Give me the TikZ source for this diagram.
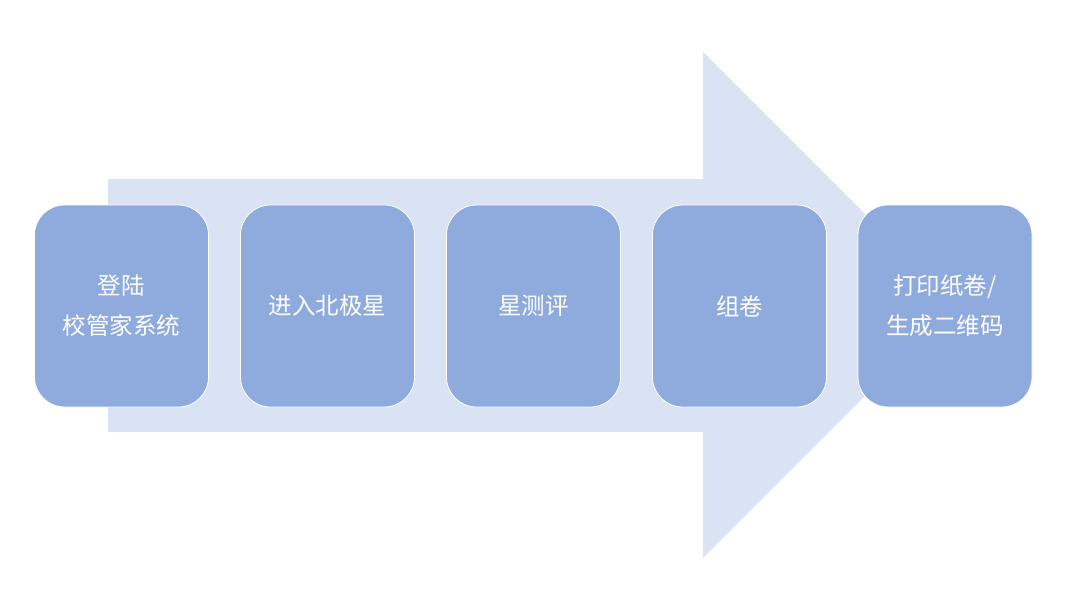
\documentclass[tikz,border=0pt]{standalone}
\usepackage{fontspec}
\setmainfont{Noto Sans CJK SC}
\begin{document}
\begin{tikzpicture}[x=1pt,y=-1pt, line join=round,
	stepbox/.style={draw=white, line width=.8pt, fill=boxblue, rounded corners=30pt,
		minimum width=174pt, minimum height=202pt, text=white, align=center,
		font=\fontsize{23.5pt}{40pt}\selectfont}]
		\definecolor{arrowblue}{HTML}{DAE3F3}
		\definecolor{boxblue}{HTML}{8FAADC}
		\useasboundingbox (0,0) rectangle (1080,613);
		\fill[arrowblue] (108,179)--(703,179)--(703,52)--(956,305)--(703,558)--(703,432)--(108,432)--cycle;
		\foreach \i/\x/\t in{1/121.5/{登陆\\校管家系统},2/327.5/进入北极星,3/533.5/星测评,4/739.5/组卷,5/945/{打印纸卷/\\生成二维码}}
		\node[stepbox] (b\i) at (\x,306) {\t};
	\end{tikzpicture}
\end{document}
